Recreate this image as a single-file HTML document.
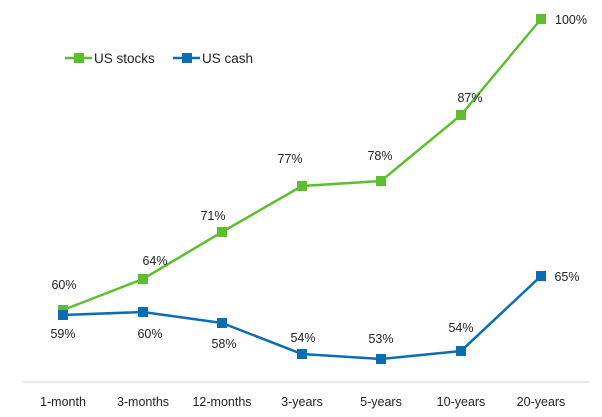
<!DOCTYPE html>
<html><head><style>body{margin:0;background:#fff}svg{display:block}text{font-family:"Liberation Sans",sans-serif;font-size:12.5px;fill:#222}</style></head><body>
<svg width="602" height="417" viewBox="0 0 602 417">
<line x1="23" y1="382" x2="590" y2="382" stroke="#ddd" stroke-width="1.2"/>
<g text-anchor="middle">
<text x="63" y="406">1-month</text><text x="143" y="406">3-months</text><text x="222" y="406">12-months</text><text x="302" y="406">3-years</text><text x="381" y="406">5-years</text><text x="461" y="406">10-years</text><text x="541" y="406">20-years</text>
</g>
<polyline points="63,310 143,279 222,232 302,186 381,181 461,115 541,19" fill="none" stroke="#5dbf2f" stroke-width="2.5"/>
<g fill="#5dbf2f"><rect x="58" y="305" width="10" height="10"/><rect x="138" y="274" width="10" height="10"/><rect x="217" y="227" width="10" height="10"/><rect x="297" y="181" width="10" height="10"/><rect x="376" y="176" width="10" height="10"/><rect x="456" y="110" width="10" height="10"/><rect x="536" y="14" width="10" height="10"/></g>
<polyline points="63,315 143,312 222,323 302,354 381,359 461,351 541,276" fill="none" stroke="#0b6db3" stroke-width="2.5"/>
<g fill="#0b6db3"><rect x="58" y="310" width="10" height="10"/><rect x="138" y="307" width="10" height="10"/><rect x="217" y="318" width="10" height="10"/><rect x="297" y="349" width="10" height="10"/><rect x="376" y="354" width="10" height="10"/><rect x="456" y="346" width="10" height="10"/><rect x="536" y="271" width="10" height="10"/></g>
<g text-anchor="middle">
<text x="64" y="289">60%</text><text x="155" y="265">64%</text><text x="213" y="220">71%</text><text x="290" y="163">77%</text><text x="380" y="160">78%</text><text x="470" y="102">87%</text><text x="571" y="24">100%</text>
<text x="63" y="338">59%</text><text x="150" y="338">60%</text><text x="224" y="348">58%</text><text x="303" y="342">54%</text><text x="381" y="343">53%</text><text x="461" y="332">54%</text><text x="567" y="281">65%</text>
</g>
<line x1="65" y1="58" x2="92" y2="58" stroke="#5dbf2f" stroke-width="2.5"/><rect x="74" y="53" width="10" height="10" fill="#5dbf2f"/>
<text x="94" y="63" style="font-size:13.5px">US stocks</text>
<line x1="173" y1="58" x2="200" y2="58" stroke="#0b6db3" stroke-width="2.5"/><rect x="182" y="53" width="10" height="10" fill="#0b6db3"/>
<text x="202" y="63" style="font-size:13.5px">US cash</text>
</svg></body></html>
